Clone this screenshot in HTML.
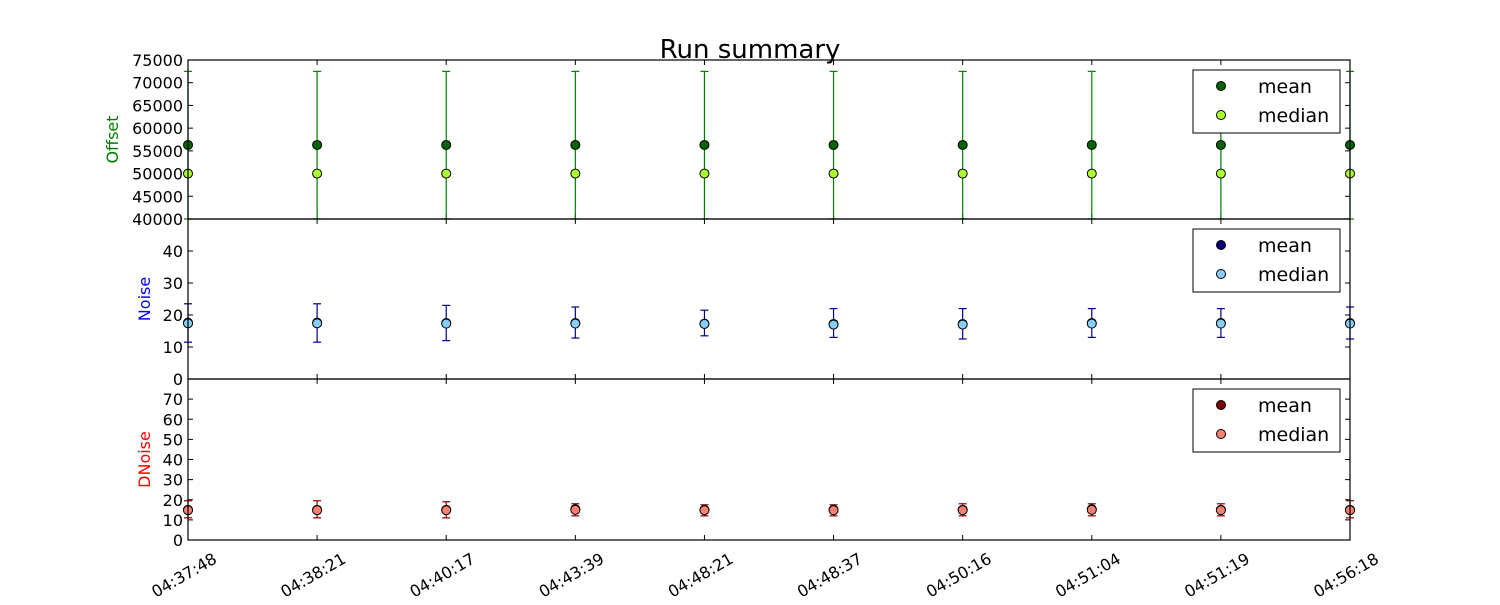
<!DOCTYPE html>
<html><head><meta charset="utf-8"><style>
body{margin:0;background:#fff;font-family:"Liberation Sans","DejaVu Sans",sans-serif}
svg text{font-family:"DejaVu Sans","Liberation Sans",sans-serif}
</style></head><body>
<svg id="c" width="1500" height="600" xmlns="http://www.w3.org/2000/svg">
<text x="750" y="58" font-size="26" text-anchor="middle">Run summary</text>
</svg>
<script>
const categories=["04:37:48","04:38:21","04:40:17","04:43:39","04:48:21","04:48:37","04:50:16","04:51:04","04:51:19","04:56:18"];
const offsetMean=[56300,56300,56300,56300,56300,56300,56300,56300,56300,56300];
const offsetMedian=[50000,50000,50000,50000,50000,50000,50000,50000,50000,50000];
const offsetLo=[40000,40000,40000,40000,40000,40000,40000,40000,40000,40000];
const offsetHi=[72500,72500,72500,72500,72500,72500,72500,72500,72500,72500];
const noiseMean=[17.6,17.6,17.5,17.5,17.3,17.2,17.2,17.5,17.5,17.5];
const noiseMedian=[17.4,17.4,17.3,17.3,17.2,17.0,17.0,17.3,17.3,17.3];
const noiseLo=[11.5,11.5,12,12.8,13.5,13,12.5,13,13,12.5];
const noiseHi=[23.5,23.5,23,22.5,21.5,22,22,22,22,22.5];
const dnoiseMean=[15,15,15,15.3,15,15,15,15.3,15,15];
const dnoiseMedian=[14.8,14.8,14.8,15,14.8,14.8,14.8,15,14.8,14.8];
const dnoiseLo=[11,11,11,12,12,12,12,12,12,11];
const dnoiseHi=[19.5,19.5,19,18,17.5,17.5,18,18,18,19.5];
const offsetTicks=[40000,45000,50000,55000,60000,65000,70000,75000];
const noiseTicks=[0,10,20,30,40];
const dnoiseTicks=[0,10,20,30,40,50,60,70];

const svg=document.getElementById('c');
const NS="http://www.w3.org/2000/svg";
const L=188,R=1350;
function mk(tag,attrs,parent){const e=document.createElementNS(NS,tag);for(const k in attrs)e.setAttribute(k,attrs[k]);(parent||svg).appendChild(e);return e;}
function xs(i){return L+i*(R-L)/(categories.length-1);}

const panels=[
 {name:'offset',top:60,bot:219,min:40000,max:75000,ticks:offsetTicks,label:'Offset',lc:'#008000',mean:offsetMean,med:offsetMedian,lo:offsetLo,hi:offsetHi,mc:'#006400',dc:'#adff2f',ec:'#008000'},
 {name:'noise',top:219,bot:379,min:0,max:50,ticks:noiseTicks,label:'Noise',lc:'#0000ff',mean:noiseMean,med:noiseMedian,lo:noiseLo,hi:noiseHi,mc:'#000080',dc:'#87cefa',ec:'#00008b'},
 {name:'dnoise',top:379,bot:540,min:0,max:80,ticks:dnoiseTicks,label:'DNoise',lc:'#ff0000',mean:dnoiseMean,med:dnoiseMedian,lo:dnoiseLo,hi:dnoiseHi,mc:'#800000',dc:'#fa8072',ec:'#8b0000'}
];
panels.forEach((p,pi)=>{
 const ys=v=>p.bot-(v-p.min)/(p.max-p.min)*(p.bot-p.top);
 const g=mk('g',{});
 
 
 p.ticks.forEach(t=>{
  const y=ys(t);
  const tl=mk('line',{x1:L,x2:L+5,y1:y,y2:y,stroke:'#000'},g);
  
  
  mk('line',{x1:R-5,x2:R,y1:y,y2:y,stroke:'#000'},g);
  const tx=mk('text',{x:L-5,y:y+6,'font-size':16,'text-anchor':'end'},g);
  tx.textContent=t;
  
  
 });
 categories.forEach((c,i)=>{
  mk('line',{x1:xs(i),x2:xs(i),y1:p.bot,y2:p.bot-5,stroke:'#000'},g);
  mk('line',{x1:xs(i),x2:xs(i),y1:p.top,y2:p.top+5,stroke:'#000'},g);
 });
 const yl=mk('text',{x:0,y:0,'font-size':16,fill:p.lc,'text-anchor':'middle',transform:`translate(${pi==0?118:pi==1?150:150},${(p.top+p.bot)/2}) rotate(-90)`},g);
 yl.textContent=p.label;
 
 
 categories.forEach((c,i)=>{
  const x=xs(i);
  const eb=mk('g',{stroke:p.ec,'stroke-width':1.2},g);
  
  
  mk('line',{x1:x,x2:x,y1:ys(p.lo[i]),y2:ys(p.hi[i])},eb);
  mk('line',{x1:x-4,x2:x+4,y1:ys(p.lo[i]),y2:ys(p.lo[i])},eb);
  mk('line',{x1:x-4,x2:x+4,y1:ys(p.hi[i]),y2:ys(p.hi[i])},eb);
  const m=mk('circle',{cx:x,cy:ys(p.mean[i]),r:4.5,fill:p.mc,stroke:'#000'},g);
  
  
  const d=mk('circle',{cx:x,cy:ys(p.med[i]),r:4.5,fill:p.dc,stroke:'#000'},g);
  
  
 });
 const fr=mk('rect',{x:L,y:p.top,width:R-L,height:p.bot-p.top,fill:'none',stroke:'#000','stroke-width':1.2},g);
 
 
 const lg=mk('g',{},g);
 
 
 const ly=p.top+10;
 mk('rect',{x:1193,y:ly,width:147,height:63,fill:'#fff',stroke:'#000'},lg);
 [['mean',p.mc],['median',p.dc]].forEach((e,k)=>{
  const ent=mk('g',{},lg);
  
  
  mk('circle',{cx:1221,cy:ly+16+k*29,r:4.5,fill:e[1],stroke:'#000'},ent);
  const t=mk('text',{x:1258,y:ly+23+k*29,'font-size':19},ent);
  t.textContent=e[0];
 });
});
categories.forEach((c,i)=>{
 const t=mk('text',{x:0,y:0,'font-size':16,'text-anchor':'end',transform:`translate(${xs(i)+30},${562}) rotate(-30)`});
 t.textContent=c;
 
 
});
</script>
</body></html>
